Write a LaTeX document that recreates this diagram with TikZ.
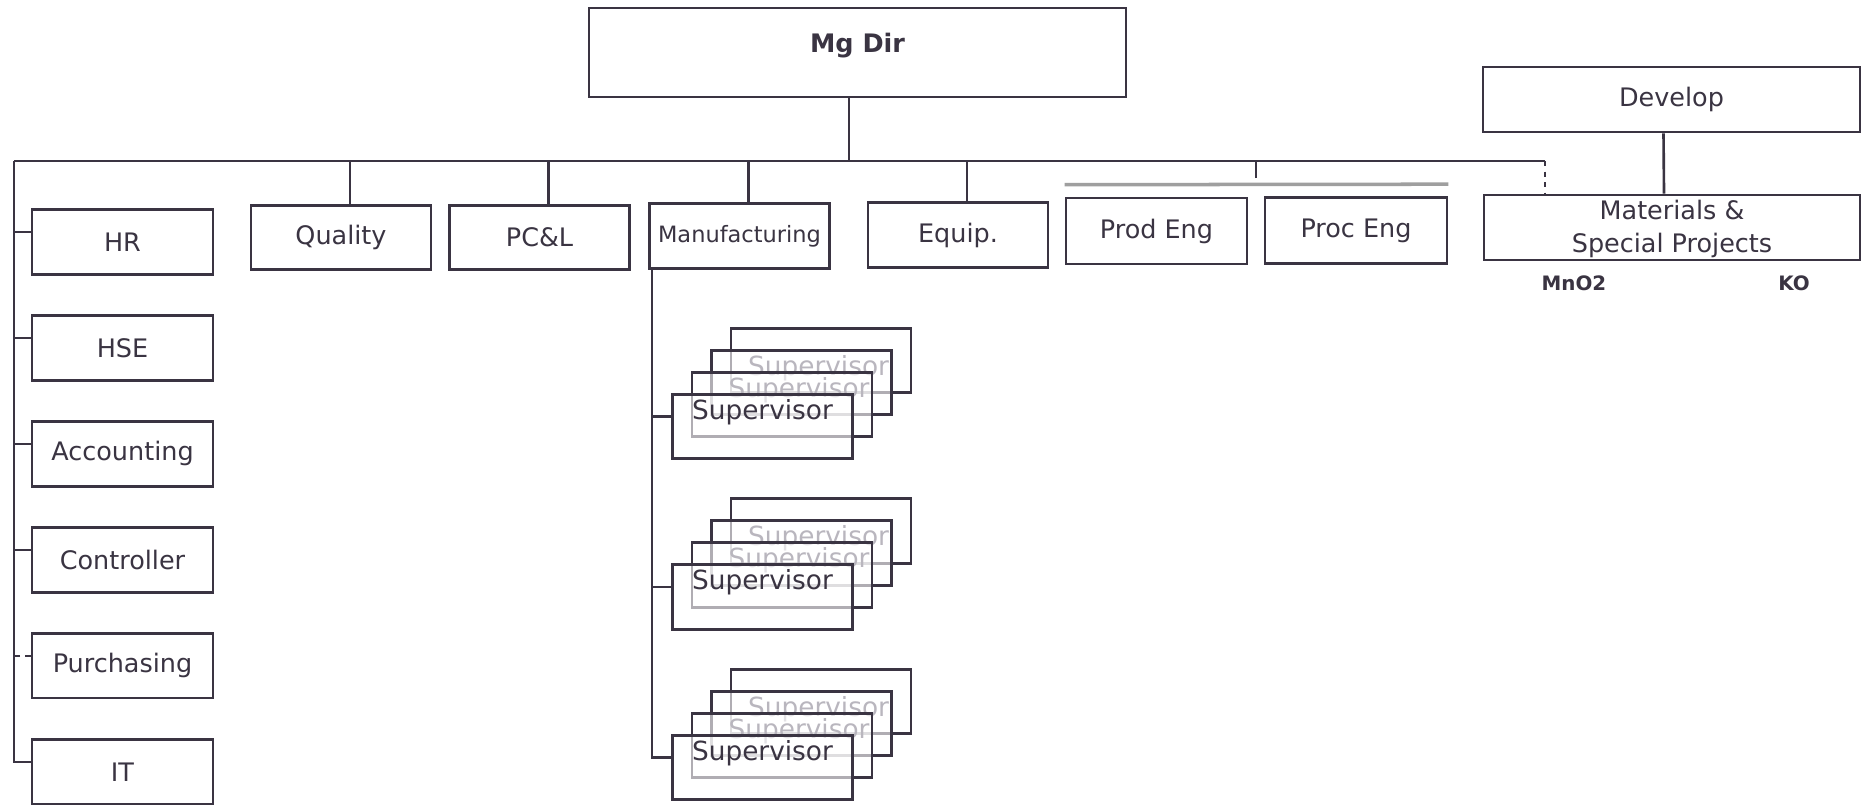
\documentclass[tikz,border=0pt]{standalone}
\usepackage{fontspec}
\setmainfont{DejaVu Sans}
\usetikzlibrary{positioning}

\definecolor{ink}{RGB}{58,52,66}
\definecolor{faint}{RGB}{185,182,190}

\begin{document}
\begin{tikzpicture}[x=0.02cm, y=-0.02cm, color=ink, line width=1.5pt, node distance=2.12cm,
    box/.style={draw, minimum width=3.6cm, minimum height=1.29cm, inner sep=1pt, font=\fontsize{14.5}{17}\selectfont},
    sup/.style={box, fill=white, fill opacity=0.6, text opacity=1, text height=0.4cm, text depth=0.7cm, font=\fontsize{15}{17}\selectfont},
    ghost/.style={sup, text=faint, text width=3.5cm, align=right}]
    \path[fill=white] (0,0) rectangle (1863,805);
    \useasboundingbox (0,0) rectangle (1863,805);

    % top
    \node[box, minimum width=10.74cm, minimum height=1.78cm, text height=0.4cm, text depth=0.4cm, font=\bfseries\fontsize{14.5}{17}\selectfont] (mgdir) at (857.5,52.5) {Mg Dir};
    \node[box, minimum width=7.54cm, minimum height=1.3cm] (dev) at (1671.5,99.5) {Develop};
    \node[box, minimum width=7.52cm, minimum height=1.3cm, inner sep=0pt, align=center, font=\fontsize{14.5}{18.5}\selectfont] (mat) at (1672,227.5) {\\[-6pt]Materials \&\\Special Projects};
    \node[font=\bfseries\fontsize{11.3}{13}\selectfont] (mno) at (1574,283) {MnO2};
    \node[font=\bfseries\fontsize{11.3}{13}\selectfont] (ko) at (1794,283) {KO};

    % departments
    \node[box] (qual) at (341,237.5) {Quality};
    \node[box] (pcl) at (539.5,237.5) {PC\&L};
    \node[box, font=\fontsize{12.8}{15}\selectfont] (manu) at (739.5,236) {Manufacturing};
    \node[box] (equip) at (958,235) {Equip.};
    \node[box, minimum width=3.62cm, minimum height=1.32cm] (prod) at (1156.5,231) {Prod Eng};
    \node[box, minimum width=3.64cm, minimum height=1.32cm] (proc) at (1356,230.5) {Proc Eng};

    % staff column
    \node[box, minimum width=3.62cm] (hr) at (122.5,242) {HR};
    \node[box, minimum width=3.62cm] (hse) [below of=hr] {HSE};
    \node[box, minimum width=3.62cm] (acc) [below of=hse] {Accounting};
    \node[box, minimum width=3.62cm] (ctrl) [below of=acc] {Controller};
    \node[box, minimum width=3.62cm] (pur) [below of=ctrl] {Purchasing};
    \node[box, minimum width=3.62cm] (it) [below of=pur] {IT};

    % supervisor stacks
    \foreach \n/\y in {a/426.5,b/597,c/767.5} {
      \node[sup] (sup\n3) at (821,\y-66) {};
      \node[ghost] (sup\n2) at (801.5,\y-44) {Supervisor};
      \node[ghost] (sup\n1) at (782,\y-22) {Supervisor};
      \node[sup] (sup\n) at (762.5,\y) {Supervisor};
    }

    \coordinate (busL) at (14,161);
    \coordinate (busR) at (1545,161);
    \coordinate (mfg) at (652,270);
    \coordinate (bar) at (1256,178);

    \draw (busL) -- (busR);
    \draw ([xshift=-1.7mm]mgdir.south) -- ([xshift=-1.7mm]mgdir.south |- busL);
    \foreach \n in {qual,pcl,manu,equip}
      \draw ([xshift=1.8mm]\n.north) |- (busL);
    \foreach \n in {hr,hse,acc,ctrl,it}
      \draw ([yshift=2mm]\n.west) -| (busL);
    \draw[dashed] ([yshift=2mm]pur.west) -| (busL);
    \foreach \n in {a,b,c}
      \draw ([yshift=2mm]sup\n.west) -| (mfg);
    \draw (bar) -- (bar |- busL);
    \draw[gray!75, line width=2pt] ([yshift=2.4mm]prod.north west) -- ([yshift=2.4mm]proc.north east);
    \draw[dashed] (busR) -- (busR |- mat.north);
    \draw ([xshift=-1.6mm]dev.south) -- ([xshift=-1.6mm]mat.north);
\end{tikzpicture}
\end{document}
